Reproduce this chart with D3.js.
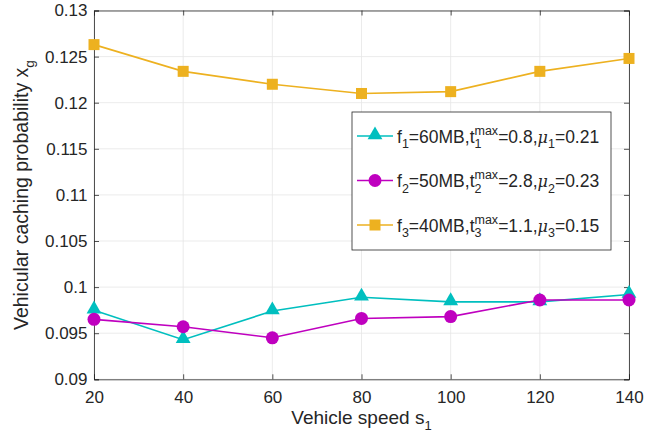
<!DOCTYPE html>
<html>
<head>
<meta charset="utf-8">
<script src="https://cdn.jsdelivr.net/npm/d3@7"></script>
<style>
  body { margin: 0; background: #fff; }
  svg { font-family: "Liberation Sans", Arial, sans-serif; }
</style>
</head>
<body>
<div id="chart"></div>
<script>
// data
const speeds = [20, 40, 60, 80, 100, 120, 140];
const probF1 = [0.0975, 0.0943, 0.0974, 0.0989, 0.0984, 0.0984, 0.0992];
const probF2 = [0.0965, 0.0957, 0.0945, 0.0966, 0.0968, 0.0986, 0.0986];
const probF3 = [0.1263, 0.1234, 0.1220, 0.1210, 0.1212, 0.1234, 0.1248];
const xTicks = [20, 40, 60, 80, 100, 120, 140];
const yTicks = [0.09, 0.095, 0.1, 0.105, 0.11, 0.115, 0.12, 0.125, 0.13];

const WIDTH = 657, HEIGHT = 434;
const MARGIN = { TOP: 10.5, BOTTOM: 54.7, LEFT: 94, RIGHT: 28 };
const W = WIDTH - MARGIN.LEFT - MARGIN.RIGHT;
const H = HEIGHT - MARGIN.TOP - MARGIN.BOTTOM;
const INK = "#262626";

const series = [
    { values: probF1, color: "#00BFBF", marker: "triangle", f: "1", fv: "60", tv: "0.8", mv: "0.21" },
    { values: probF2, color: "#BF00BF", marker: "circle", f: "2", fv: "50", tv: "2.8", mv: "0.23" },
    { values: probF3, color: "#EDB120", marker: "square", f: "3", fv: "40", tv: "1.1", mv: "0.15" }
];

const svg = d3.select("#chart").append("svg")
    .attr("width", WIDTH)
    .attr("height", HEIGHT);

const g = svg.append("g")
    .attr("transform", `translate(${MARGIN.LEFT}, ${MARGIN.TOP})`);

const x = d3.scaleLinear().domain([20, 140]).range([0, W]);
const y = d3.scaleLinear().domain([0.09, 0.13]).range([H, 0]);

// grid
g.append("g").selectAll("line").data(xTicks).enter().append("line")
    .attr("x1", d => x(d)).attr("x2", d => x(d))
    .attr("y1", 0).attr("y2", H)
    .attr("stroke", "#e6e6e6").attr("stroke-width", 0.8);
g.append("g").selectAll("line").data(yTicks).enter().append("line")
    .attr("y1", d => y(d)).attr("y2", d => y(d))
    .attr("x1", 0).attr("x2", W)
    .attr("stroke", "#e6e6e6").attr("stroke-width", 0.8);

// axes, ticks inward like matlab
const fmtY = d => String(+d.toFixed(3));
const xAxis = g.append("g").attr("transform", `translate(0, ${H})`)
    .call(d3.axisBottom(x).tickValues(xTicks).tickSize(-5).tickPadding(12));
const yAxis = g.append("g")
    .call(d3.axisLeft(y).tickValues(yTicks).tickFormat(fmtY).tickSize(-5).tickPadding(6.5));
const xTop = g.append("g")
    .call(d3.axisTop(x).tickValues(xTicks).tickSize(-5).tickFormat(""));
const yRight = g.append("g").attr("transform", `translate(${W}, 0)`)
    .call(d3.axisRight(y).tickValues(yTicks).tickSize(-5).tickFormat(""));

[xAxis, yAxis, xTop, yRight].forEach(a => {
    a.select(".domain").attr("stroke", INK).attr("stroke-width", 0.8);
    a.selectAll(".tick line").attr("stroke", INK).attr("stroke-width", 0.8);
    a.selectAll(".tick text").attr("fill", INK).style("font-size", "17px");
});

// lines
const line = d3.line().x((d, i) => x(speeds[i])).y(d => y(d));

function drawMarker(sel, type, color) {
    if (type === "triangle") {
        sel.append("path")
            .attr("d", d3.symbol().type(d3.symbolTriangle).size(95))
            .attr("transform", "translate(0,-1)")
            .attr("fill", color);
    } else if (type === "circle") {
        sel.append("circle").attr("r", 6.5).attr("fill", color);
    } else {
        sel.append("rect").attr("x", -5.5).attr("y", -5.5)
            .attr("width", 11).attr("height", 11).attr("fill", color);
    }
}

series.forEach(s => {
    g.append("path")
        .datum(s.values)
        .attr("fill", "none")
        .attr("stroke", s.color)
        .attr("stroke-width", 1.6)
        .attr("d", line);
    const pts = g.append("g").selectAll("g").data(s.values).enter().append("g")
        .attr("transform", (d, i) => `translate(${x(speeds[i])}, ${y(d)})`);
    drawMarker(pts, s.marker, s.color);
});

// axis labels
svg.append("text")
    .attr("x", MARGIN.LEFT + W / 2)
    .attr("y", 424)
    .attr("text-anchor", "middle")
    .attr("fill", INK)
    .style("font-size", "19px")
    .html('Vehicle speed s<tspan dy="6" font-size="13px">1</tspan>');

svg.append("text")
    .attr("transform", "translate(28, 330) rotate(-90)")
    .attr("text-anchor", "start")
    .attr("fill", INK)
    .style("font-size", "19.5px")
    .html('Vehicular caching probability x<tspan dy="6" font-size="13.5px">g</tspan>');

// legend
const lg = svg.append("g").attr("transform", "translate(352, 112)");
lg.append("rect")
    .attr("width", 259).attr("height", 138)
    .attr("fill", "#fff").attr("stroke", INK).attr("stroke-width", 0.8);

const SUB = "12.5px";
series.forEach((s, i) => {
    const row = lg.append("g").attr("transform", `translate(0, ${24 + i * 44.5})`);
    row.append("line").attr("x1", 5).attr("x2", 41)
        .attr("stroke", s.color).attr("stroke-width", 1.6);
    const m = row.append("g").attr("transform", "translate(23, 0)");
    drawMarker(m, s.marker, s.color);
    const t = row.append("text")
        .attr("x", 45).attr("y", 6.5)
        .attr("fill", INK)
        .style("font-size", "17.5px");
    t.append("tspan").text("f");
    t.append("tspan").attr("dy", 5.5).attr("font-size", SUB).text(s.f);
    t.append("tspan").attr("dy", -5.5).text(`=${s.fv}MB,t`);
    const sup = t.append("tspan").attr("dy", -8).attr("font-size", SUB).text("max");
    const supW = sup.node().getComputedTextLength();
    const sub = t.append("tspan").attr("dy", 13.5).attr("dx", -supW).attr("font-size", SUB).text(s.f);
    const subW = sub.node().getComputedTextLength();
    t.append("tspan").attr("dy", -5.5).attr("dx", supW - subW).text(`=${s.tv},`);
    t.append("tspan").attr("font-family", "'DejaVu Serif', serif").attr("font-style", "italic")
        .attr("font-size", "16px").text("\u03bc");
    t.append("tspan").attr("dy", 5.5).attr("font-size", SUB).text(s.f);
    t.append("tspan").attr("dy", -5.5).text(`=${s.mv}`);
});
</script>
</body>
</html>
